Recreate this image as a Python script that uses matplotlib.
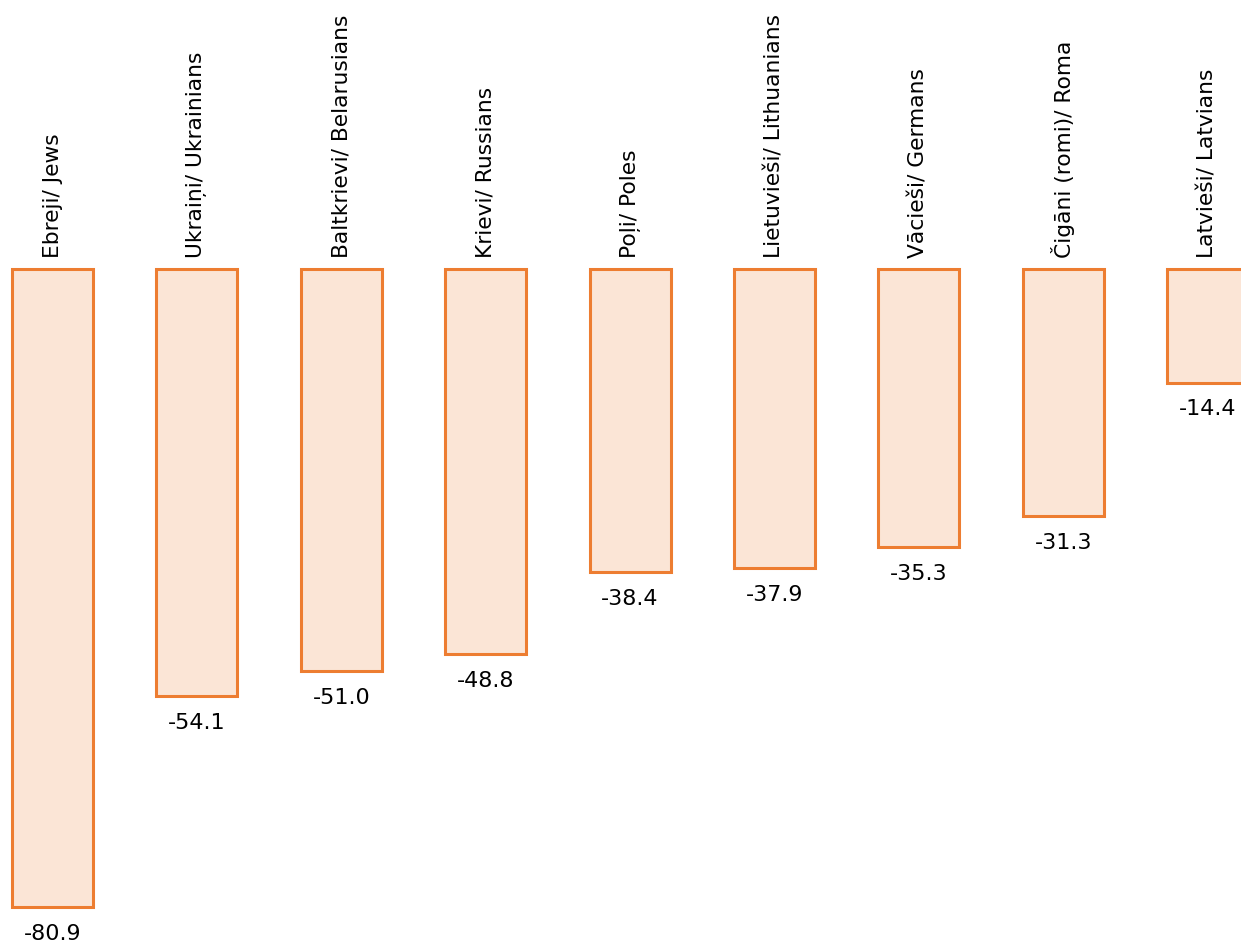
import matplotlib.pyplot as plt

groups = ['Ebreji/ Jews', 'Ukraiņi/ Ukrainians', 'Baltkrievi/ Belarusians',
          'Krievi/ Russians', 'Poļi/ Poles', 'Lietuvieši/ Lithuanians',
          'Vācieši/ Germans', 'Čigāni (romi)/ Roma', 'Latvieši/ Latvians']
values = [-80.9, -54.1, -51.0, -48.8, -38.4, -37.9, -35.3, -31.3, -14.4]

fig = plt.figure(figsize=(12.41, 9.45), dpi=100)
ax = fig.add_axes([0, 0, 1, 1])

x = range(len(groups))
ax.bar(x, values, width=0.561, color='#FBE5D6', edgecolor='#ED7D31', linewidth=2.2)

for i, (g, v) in enumerate(zip(groups, values)):
    ax.text(i, 1.5, g, rotation=90, ha='center', va='bottom', fontsize=15.7, color='#000000')
    ax.text(i, v - 2.0, f'{v:.1f}', ha='center', va='top', fontsize=16, color='#000000')

ax.set_xlim(-0.3636, 8.231)
ax.set_ylim(-85.55, 34.2)
ax.axis('off')

fig.savefig('out.png', dpi=100)
